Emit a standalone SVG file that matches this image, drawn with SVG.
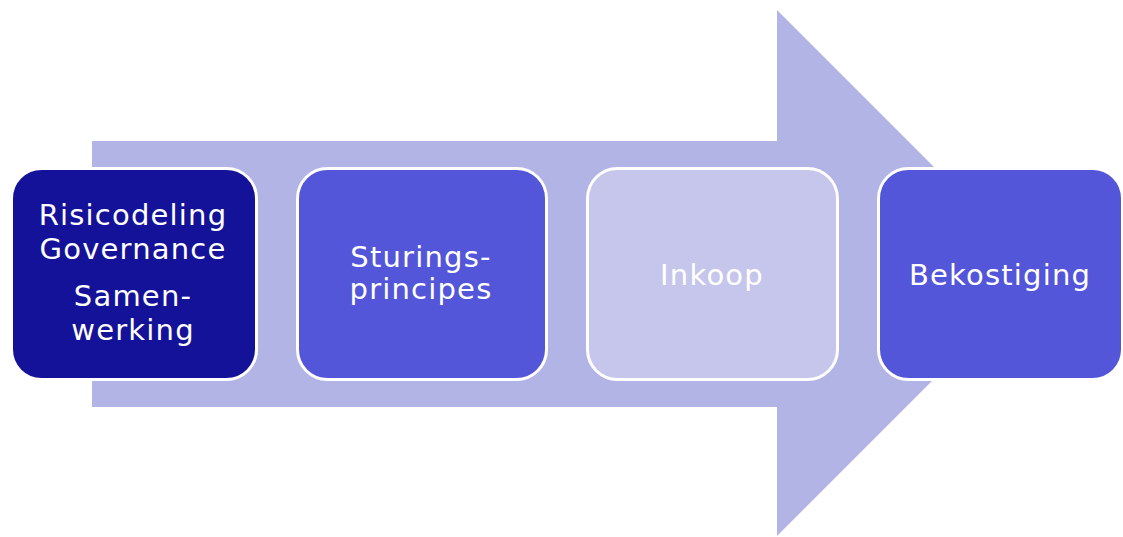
<svg xmlns="http://www.w3.org/2000/svg" width="1123" height="537" viewBox="0 0 1123 537">
  <style>
    .box { stroke: #ffffff; stroke-width: 3; }
    .lbl { font-family: "DejaVu Sans", "Liberation Sans", sans-serif; font-size: 29px; fill: #ffffff; text-anchor: middle; letter-spacing: 1.2px; }
  </style>
  <rect width="1123" height="537" fill="#ffffff"/>
  <g id="connectors">
    <polygon points="92,141 777,141 777,10 1040,273 777,536 777,407 92,407" fill="#b3b4e6"/>
  </g>
  <g id="node1">
    <rect class="box" x="11.5" y="168.5" width="245" height="211" rx="30" fill="#15129a"/>
    <text class="lbl" x="133" y="225">Risicodeling</text>
    <text class="lbl" x="133" y="259">Governance</text>
    <text class="lbl" x="133" y="306">Samen-</text>
    <text class="lbl" x="133" y="340">werking</text>
  </g>
  <g id="node2">
    <rect class="box" x="297.5" y="168.5" width="249" height="211" rx="30" fill="#5356d9"/>
    <text class="lbl" x="421" y="267">Sturings-</text>
    <text class="lbl" x="421" y="299">principes</text>
  </g>
  <g id="node3">
    <rect class="box" x="587.5" y="168.5" width="250" height="211" rx="30" fill="#c6c6ec"/>
    <text class="lbl" x="712" y="285">Inkoop</text>
  </g>
  <g id="node4">
    <rect class="box" x="878.5" y="168.5" width="244" height="211" rx="30" fill="#5356d9"/>
    <text class="lbl" x="1000" y="285">Bekostiging</text>
  </g>
</svg>
